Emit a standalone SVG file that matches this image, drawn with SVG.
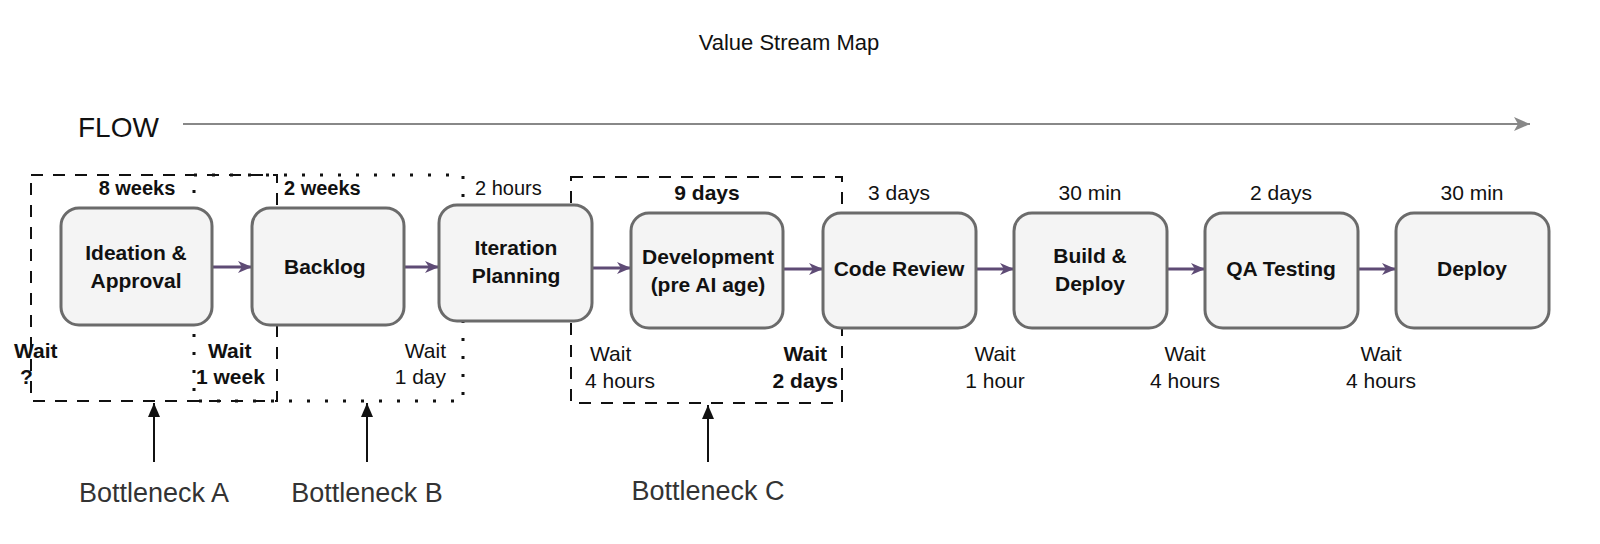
<svg xmlns="http://www.w3.org/2000/svg" width="1600" height="544" viewBox="0 0 1600 544">
<defs>
<style>
.t{font-family:"Liberation Sans",Arial,sans-serif;fill:#111}
.b{font-weight:bold}
.box{fill:#f4f4f4;stroke:#6b6b6b;stroke-width:3}
.c{stroke:#5e4b75;stroke-width:3;fill:none}
.ds{fill:none;stroke:#111;stroke-width:2;stroke-dasharray:12 10}
.dt{fill:none;stroke:#111;stroke-width:3;stroke-dasharray:3 15}
.bk{stroke:#111;stroke-width:2;fill:none}
.g{fill:#333}
</style>
<marker id="pa" markerWidth="14" markerHeight="12" refX="14" refY="6" orient="auto" markerUnits="userSpaceOnUse"><path d="M0,0 L14,6 L0,12 L4,6 Z" fill="#5e4b75"/></marker>
<marker id="ga" markerWidth="16" markerHeight="14" refX="16" refY="7" orient="auto" markerUnits="userSpaceOnUse"><path d="M0,0 L16,7 L0,14 L4,7 Z" fill="#888"/></marker>
<marker id="ka" markerWidth="14" markerHeight="12" refX="14" refY="6" orient="auto" markerUnits="userSpaceOnUse"><path d="M0,0 L14,6 L0,12 Z" fill="#111"/></marker>
</defs>
<rect width="1600" height="544" fill="#fff"/>
<text class="t" x="789" y="50" font-size="22" text-anchor="middle">Value Stream Map</text>
<text class="t" x="78" y="137" font-size="28">FLOW</text>
<line x1="183" y1="124" x2="1530" y2="124" stroke="#888" stroke-width="2" marker-end="url(#ga)"/>

<g id="regions">
<rect class="ds" x="31" y="175" width="246" height="226"/>
<rect class="dt" x="194" y="175" width="269" height="226"/>
<rect class="ds" x="571" y="177" width="271" height="226"/>
</g>

<g id="connectors">
<line class="c" x1="212" y1="267" x2="252" y2="267" marker-end="url(#pa)"/>
<line class="c" x1="404" y1="267" x2="439" y2="267" marker-end="url(#pa)"/>
<line class="c" x1="592" y1="268" x2="631" y2="268" marker-end="url(#pa)"/>
<line class="c" x1="783" y1="269" x2="823" y2="269" marker-end="url(#pa)"/>
<line class="c" x1="976" y1="269" x2="1014" y2="269" marker-end="url(#pa)"/>
<line class="c" x1="1167" y1="269" x2="1205" y2="269" marker-end="url(#pa)"/>
<line class="c" x1="1358" y1="269" x2="1396" y2="269" marker-end="url(#pa)"/>
<line class="bk" x1="154" y1="462" x2="154" y2="403" marker-end="url(#ka)"/>
<line class="bk" x1="367" y1="462" x2="367" y2="403" marker-end="url(#ka)"/>
<line class="bk" x1="708" y1="462" x2="708" y2="405" marker-end="url(#ka)"/>
</g>

<g id="n1"><rect class="box" x="61" y="208" width="151" height="117" rx="18"/>
<text class="t b" x="136" y="260" font-size="21" text-anchor="middle">Ideation &amp;</text>
<text class="t b" x="136" y="288" font-size="21" text-anchor="middle">Approval</text>
<text class="t b" x="137" y="195" font-size="20" text-anchor="middle">8 weeks</text></g>
<g id="n2"><rect class="box" x="252" y="208" width="152" height="117" rx="18"/>
<text class="t b" x="284" y="274" font-size="21">Backlog</text>
<text class="t b" x="284" y="195" font-size="20">2 weeks</text></g>
<g id="n3"><rect class="box" x="439" y="205" width="153" height="116" rx="18"/>
<text class="t b" x="516" y="255" font-size="21" text-anchor="middle">Iteration</text>
<text class="t b" x="516" y="283" font-size="21" text-anchor="middle">Planning</text>
<text class="t" x="475" y="195" font-size="20">2 hours</text></g>
<g id="n4"><rect class="box" x="631" y="213" width="152" height="115" rx="18"/>
<text class="t b" x="708" y="264" font-size="21" text-anchor="middle">Development</text>
<text class="t b" x="708" y="292" font-size="21" text-anchor="middle">(pre AI age)</text>
<text class="t b" x="707" y="200" font-size="21" text-anchor="middle">9 days</text></g>
<g id="n5"><rect class="box" x="823" y="213" width="153" height="115" rx="18"/>
<text class="t b" x="899" y="276" font-size="21" text-anchor="middle">Code Review</text>
<text class="t" x="899" y="200" font-size="21" text-anchor="middle">3 days</text></g>
<g id="n6"><rect class="box" x="1014" y="213" width="153" height="115" rx="18"/>
<text class="t b" x="1090" y="263" font-size="21" text-anchor="middle">Build &amp;</text>
<text class="t b" x="1090" y="291" font-size="21" text-anchor="middle">Deploy</text>
<text class="t" x="1090" y="200" font-size="21" text-anchor="middle">30 min</text></g>
<g id="n7"><rect class="box" x="1205" y="213" width="153" height="115" rx="18"/>
<text class="t b" x="1281" y="276" font-size="21" text-anchor="middle">QA Testing</text>
<text class="t" x="1281" y="200" font-size="21" text-anchor="middle">2 days</text></g>
<g id="n8"><rect class="box" x="1396" y="213" width="153" height="115" rx="18"/>
<text class="t b" x="1472" y="276" font-size="21" text-anchor="middle">Deploy</text>
<text class="t" x="1472" y="200" font-size="21" text-anchor="middle">30 min</text></g>

<g id="waits">
<text class="t b" x="14" y="358" font-size="21">Wait</text>
<text class="t b" x="20" y="384" font-size="21">?</text>
<text class="t b" x="208" y="358" font-size="21">Wait</text>
<text class="t b" x="196" y="384" font-size="21">1 week</text>
<text class="t" x="446" y="358" font-size="21" text-anchor="end">Wait</text>
<text class="t" x="446" y="384" font-size="21" text-anchor="end">1 day</text>
<text class="t" x="590" y="361" font-size="21">Wait</text>
<text class="t" x="585" y="388" font-size="21">4 hours</text>
<text class="t b" x="827" y="361" font-size="21" text-anchor="end">Wait</text>
<text class="t b" x="838" y="388" font-size="21" text-anchor="end">2 days</text>
<text class="t" x="995" y="361" font-size="21" text-anchor="middle">Wait</text>
<text class="t" x="995" y="388" font-size="21" text-anchor="middle">1 hour</text>
<text class="t" x="1185" y="361" font-size="21" text-anchor="middle">Wait</text>
<text class="t" x="1185" y="388" font-size="21" text-anchor="middle">4 hours</text>
<text class="t" x="1381" y="361" font-size="21" text-anchor="middle">Wait</text>
<text class="t" x="1381" y="388" font-size="21" text-anchor="middle">4 hours</text>
</g>
<g id="labels">
<text class="t g" x="154" y="502" font-size="27" text-anchor="middle">Bottleneck A</text>
<text class="t g" x="367" y="502" font-size="27" text-anchor="middle">Bottleneck B</text>
<text class="t g" x="708" y="500" font-size="27" text-anchor="middle">Bottleneck C</text>
</g>
</svg>
